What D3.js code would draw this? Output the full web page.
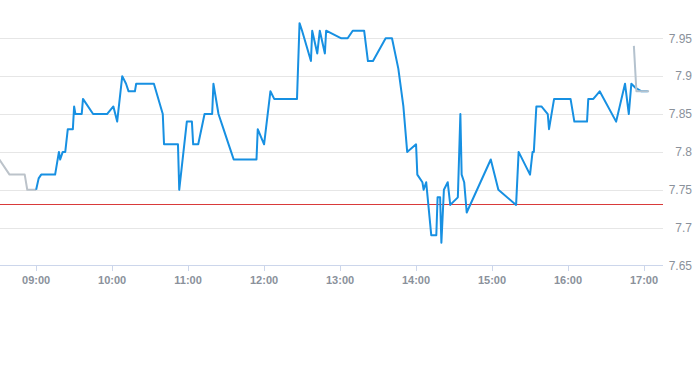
<!DOCTYPE html>
<html>
<head>
<meta charset="utf-8">
<script src="https://cdn.jsdelivr.net/npm/d3@7"></script>
<style>
  html, body { margin: 0; padding: 0; background: #fff; }
  svg { display: block; font-family: "Liberation Sans", Arial, sans-serif; }
</style>
</head>
<body>
<svg id="chart" width="693" height="365"></svg>
<script>
// ---- data ----
const preTimes  = ["08:31", "08:39", "08:51", "08:53", "09:00"];
const preValues = [7.79, 7.77, 7.77, 7.75, 7.75];

const mainTimes = [
  "09:00","09:02","09:04","09:15","09:18","09:19","09:21","09:23","09:25","09:29",
  "09:30","09:31","09:36","09:37","09:45","09:56","10:01","10:04","10:08","10:11",
  "10:13","10:18","10:19","10:33","10:40","10:41","10:52","10:53","10:59","11:03",
  "11:04","11:08","11:13","11:19","11:20","11:24","11:28","11:32","11:34","11:36",
  "11:54","11:55","12:00","12:05","12:08","12:26","12:28","12:30","12:37","12:38",
  "12:42","12:44","12:48","12:49","13:01","13:06","13:10","13:19","13:22","13:26",
  "13:36","13:41","13:46","13:50","13:53","14:00","14:01","14:05","14:06","14:08",
  "14:12","14:16","14:17","14:19","14:20","14:22","14:25","14:27","14:33","14:35",
  "14:36","14:38","14:40","14:59","15:05","15:19","15:21","15:30","15:32","15:33",
  "15:35","15:39","15:44","15:45","15:49","16:02","16:05","16:15","16:16","16:20",
  "16:25","16:38","16:45","16:48","16:50","16:53","16:58","17:03"
];
const mainValues = [
  7.75,7.765,7.77,7.77,7.80,7.79,7.80,7.80,7.83,7.83,
  7.86,7.85,7.85,7.87,7.85,7.85,7.86,7.84,7.90,7.89,
  7.88,7.88,7.89,7.89,7.85,7.81,7.81,7.75,7.84,7.84,
  7.81,7.81,7.85,7.85,7.89,7.85,7.83,7.81,7.80,7.79,
  7.79,7.83,7.81,7.88,7.87,7.87,7.97,7.96,7.92,7.96,
  7.93,7.96,7.93,7.96,7.95,7.95,7.96,7.96,7.92,7.92,
  7.95,7.95,7.91,7.86,7.80,7.81,7.77,7.76,7.75,7.76,
  7.69,7.69,7.74,7.74,7.68,7.75,7.76,7.73,7.74,7.85,
  7.77,7.76,7.72,7.79,7.75,7.73,7.80,7.77,7.80,7.80,
  7.86,7.86,7.85,7.83,7.87,7.87,7.84,7.84,7.87,7.87,
  7.88,7.84,7.89,7.85,7.89,7.885,7.88,7.88
];

const postTimes  = ["16:52", "16:54", "17:04"];
const postValues = [7.94, 7.88, 7.88];

const prevClose = 7.73;
const yTicks = [7.65, 7.7, 7.75, 7.8, 7.85, 7.9, 7.95];
const xTickLabels = ["09:00","10:00","11:00","12:00","13:00","14:00","15:00","16:00","17:00"];

// ---- drawing ----
const parse = d3.timeParse("%H:%M");
const svg = d3.select("#chart");

const x = d3.scaleTime()
  .domain([parse("08:31"), parse("17:15")])
  .range([-0.6, 663]);
const y = d3.scaleLinear()
  .domain([7.65, 7.95])
  .range([265.5, 38.3]);

const plotLeft = 0, plotRight = 663;

// gridlines
svg.append("g").selectAll("line")
  .data(yTicks.slice(1))
  .join("line")
  .attr("x1", plotLeft).attr("x2", plotRight)
  .attr("y1", d => Math.round(y(d)) + 0.5).attr("y2", d => Math.round(y(d)) + 0.5)
  .attr("stroke", "#e6e6e6").attr("stroke-width", 1);

// y labels (right side)
svg.append("g").selectAll("text")
  .data(yTicks)
  .join("text")
  .attr("x", 692)
  .attr("y", d => y(d))
  .attr("dy", "0.35em")
  .attr("text-anchor", "end")
  .attr("fill", "#8a919b")
  .attr("font-size", 12)
  .text(d => d3.format("~g")(d));

// x axis line
svg.append("line")
  .attr("x1", plotLeft).attr("x2", plotRight)
  .attr("y1", 265.5).attr("y2", 265.5)
  .attr("stroke", "#ccd6eb").attr("stroke-width", 1);

// x ticks + labels
const xg = svg.append("g");
xg.selectAll("line")
  .data(xTickLabels)
  .join("line")
  .attr("x1", d => Math.round(x(parse(d))) + 0.5)
  .attr("x2", d => Math.round(x(parse(d))) + 0.5)
  .attr("y1", 265).attr("y2", 271)
  .attr("stroke", "#ccd6eb");
xg.selectAll("text")
  .data(xTickLabels)
  .join("text")
  .attr("x", d => x(parse(d)))
  .attr("y", 283.5)
  .attr("text-anchor", "middle")
  .attr("fill", "#8a919b")
  .attr("font-size", 11)
  .attr("font-weight", "bold")
  .text(d => d);

// previous close line
svg.append("line")
  .attr("x1", plotLeft).attr("x2", plotRight)
  .attr("y1", Math.round(y(prevClose)) - 0.5).attr("y2", Math.round(y(prevClose)) - 0.5)
  .attr("stroke", "#d93a3a").attr("stroke-width", 1);

const line = d3.line()
  .x(d => x(parse(d[0])))
  .y(d => y(d[1]));

// pre-market (grey)
svg.append("path")
  .datum(d3.zip(preTimes, preValues))
  .attr("d", line)
  .attr("fill", "none")
  .attr("stroke", "#bcc3ca")
  .attr("stroke-width", 2)
  .attr("stroke-linejoin", "round");

// main session (blue)
svg.append("path")
  .datum(d3.zip(mainTimes, mainValues))
  .attr("d", line)
  .attr("fill", "none")
  .attr("stroke", "#1790e2")
  .attr("stroke-width", 2)
  .attr("stroke-linejoin", "round");

// post-market (grey), drawn above
svg.append("path")
  .datum(d3.zip(postTimes, postValues))
  .attr("d", line)
  .attr("fill", "none")
  .attr("stroke", "#b4c2ce")
  .attr("stroke-width", 2)
  .attr("stroke-linejoin", "round");
</script>
</body>
</html>
